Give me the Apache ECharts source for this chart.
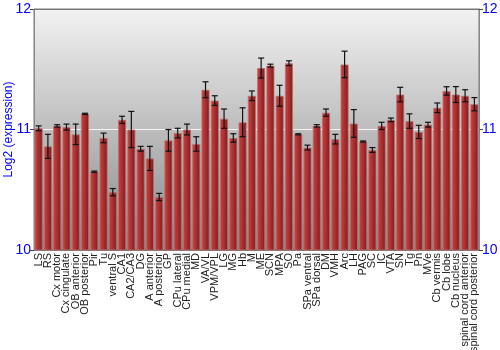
<!DOCTYPE html>
<html><head><meta charset="utf-8">
<script src="https://cdn.jsdelivr.net/npm/echarts@6/dist/echarts.min.js"></script>
<style>html,body{margin:0;padding:0;background:#fff}#c{width:500px;height:350px}</style>
</head><body><div id="c"></div>
<script>
const categories = ["LS","RS","Cx motor","Cx cingulate","OB anterior","OB posterior","Pir","Tu","ventral S","CA1","CA2/CA3","DG","A anterior","A posterior","GP","CPu lateral","CPu medial","MD","VA/VL","VPM/VPL","LG","MG","Hb","M","ME","SCN","MPA","SO","Pa","SPa ventral","SPa dorsal","DM","VMH","Arc","LH","PAG","SC","IC","VTA","SN","Tg","Pn","MVe","Cb vermis","Cb lobe","Cb nucleus","spinal cord anterior","spinal cord posterior"];
const values = [11.01,10.86,11.03,11.02,10.96,11.13,10.65,10.93,10.48,11.08,11.00,10.84,10.76,10.44,10.91,10.97,11.00,10.88,11.33,11.24,11.09,10.93,11.06,11.28,11.51,11.53,11.28,11.55,10.96,10.85,11.03,11.14,10.92,11.54,11.05,10.90,10.83,11.03,11.08,11.29,11.07,10.98,11.04,11.18,11.32,11.29,11.28,11.21];
const errors = [0.02,0.10,0.01,0.025,0.085,0.005,0.005,0.04,0.03,0.03,0.15,0.02,0.10,0.03,0.09,0.04,0.045,0.06,0.066,0.04,0.08,0.035,0.12,0.04,0.083,0.012,0.087,0.02,0.005,0.02,0.01,0.03,0.04,0.11,0.115,0.005,0.02,0.03,0.015,0.06,0.06,0.055,0.02,0.04,0.035,0.066,0.05,0.055];
const yTicks = [10, 11, 12];

const chart = echarts.init(document.getElementById('c'), null, {renderer:'canvas'});
const font = 'Liberation Sans, Arial, sans-serif';
const yAxisBase = {
  type:'value', min:10, max:12, interval:1,
  axisLine:{show:true, lineStyle:{color:'#888', width:1}},
  axisTick:{show:true, length:4, lineStyle:{color:'#444'}},
  axisLabel:{color:'#0000ff', fontSize:14, fontFamily:font, margin:3},
};
chart.setOption({
  animation:false,
  grid:{left:34, right:21, top:9, bottom:100, show:true, containLabel:false, outerBoundsMode:'none',
    backgroundColor:{type:'linear',x:0,y:0,x2:0,y2:1,colorStops:[{offset:0,color:'#f2f2f2'},{offset:1,color:'#888888'}]},
    borderColor:'#777', borderWidth:1},
  xAxis:{type:'category', data:categories,
    axisLine:{show:true, lineStyle:{color:'#777'}},
    axisTick:{show:false},
    axisLabel:{rotate:90, interval:0, fontSize:11, color:'#222', fontFamily:font, margin:3}},
  yAxis:[
    Object.assign({}, yAxisBase, {position:'left',
      name:'Log2 (expression)', nameLocation:'middle', nameGap:19, nameMoveOverlap:false,
      nameTextStyle:{color:'#0000ff', fontSize:12, fontFamily:font},
      splitLine:{show:true, lineStyle:{color:['rgba(0,0,0,0)','#f4f4f4','#777'], width:1}}}),
    Object.assign({}, yAxisBase, {position:'right', splitLine:{show:false}})
  ],
  series:[
    {type:'bar', data:values, barCategoryGap:'12%',
      itemStyle:{
        color:{type:'linear',x:0,y:0,x2:1,y2:0,colorStops:[{offset:0,color:'#c44444'},{offset:0.35,color:'#b53535'},{offset:1,color:'#7e1a1a'}]},
        borderColor:'rgba(190,110,110,0.8)', borderWidth:1}},
    {type:'custom', data:values.map((v,i)=>[i, v-errors[i], v+errors[i]]), z:5,
      renderItem:function(params, api){
        const x = api.coord([api.value(0), api.value(1)])[0];
        const lo = api.coord([api.value(0), api.value(1)])[1];
        const hi = api.coord([api.value(0), api.value(2)])[1];
        const w = 3;
        const st = {stroke:'#111', lineWidth:1.2};
        return {type:'group', children:[
          {type:'line', shape:{x1:x, y1:lo, x2:x, y2:hi}, style:st},
          {type:'line', shape:{x1:x-w, y1:lo, x2:x+w, y2:lo}, style:st},
          {type:'line', shape:{x1:x-w, y1:hi, x2:x+w, y2:hi}, style:st}
        ]};
      }}
  ]
});
</script></body></html>
